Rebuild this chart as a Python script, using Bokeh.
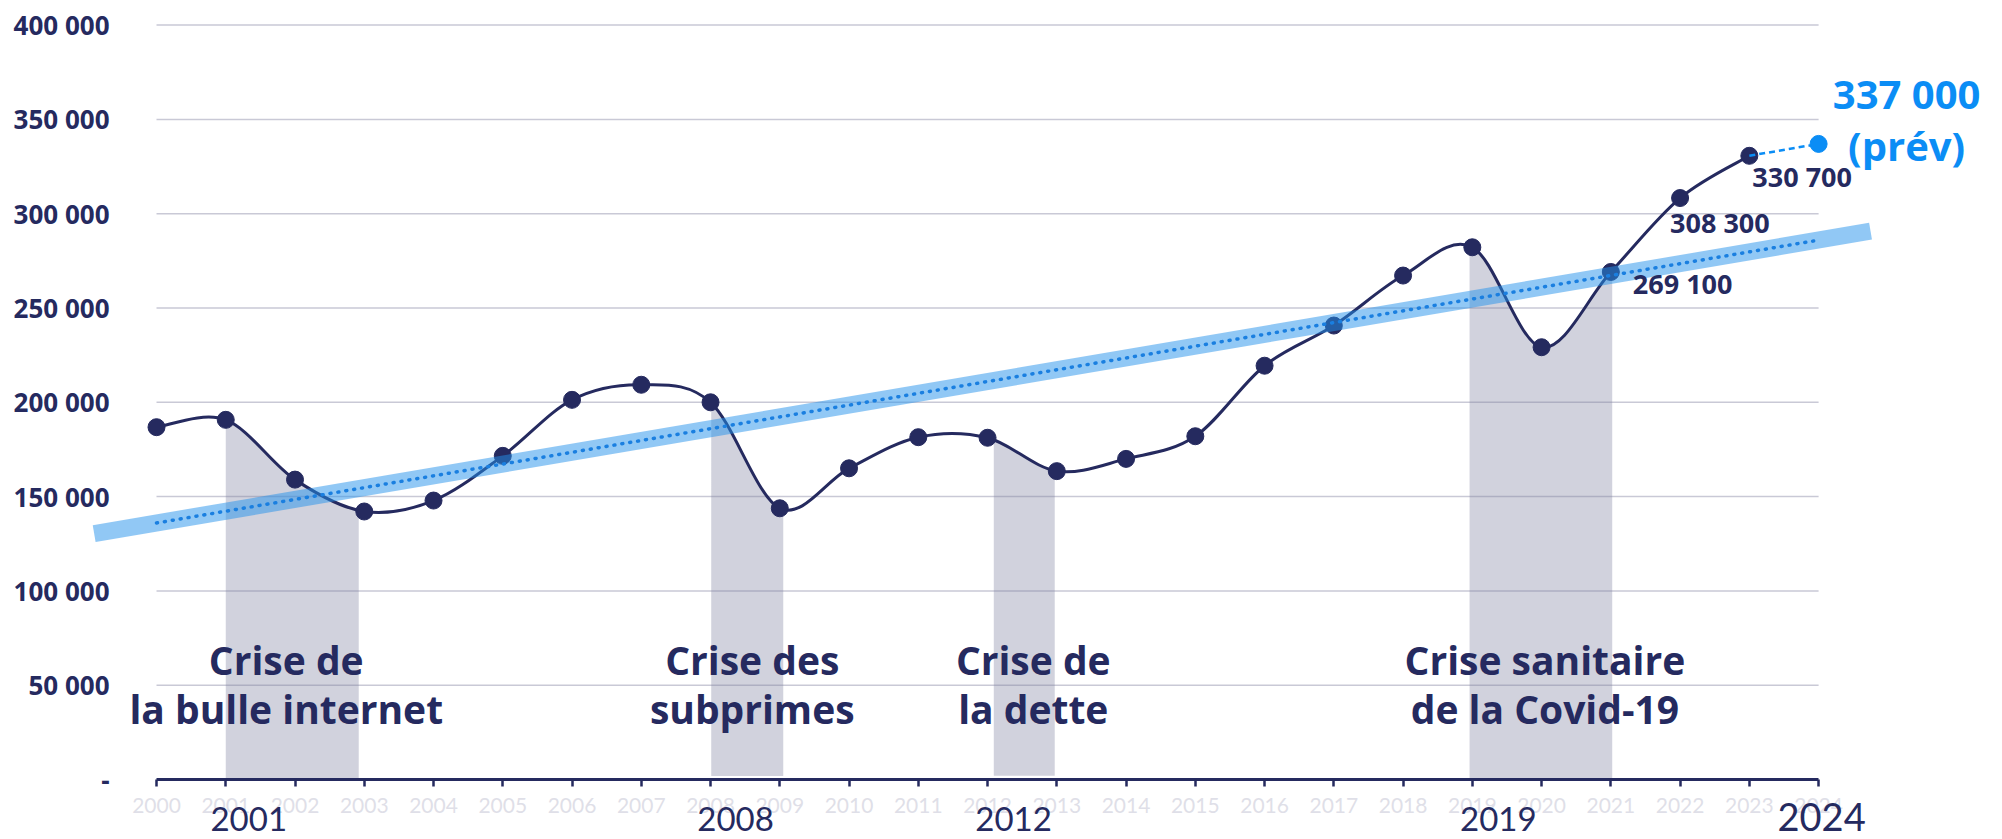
import numpy as np
from bokeh.plotting import figure
from bokeh.models import FixedTicker, Range1d
from bokeh.core.properties import value
from bokeh.embed import file_html
from bokeh.resources import INLINE

# ---------------- data ----------------
years = list(range(2000, 2024))
buyers = [186800, 190700, 159000, 142100, 147900, 171600, 201300, 209300,
          200000, 143800, 165000, 181500, 181200, 163500, 170000, 182000,
          219400, 240700, 267200, 282200, 229200, 269100, 308300, 330700]

forecast_year = 2024
forecast_value = 337000

trend_years = [2000, 2024]
trend_values = [136000, 286000]
band_years = [1999.1, 2024.75]
band_values = [130400, 290700]

crisis_start = [2001.0, 2008.01, 2012.09, 2018.96]
crisis_end = [2002.92, 2009.05, 2012.97, 2021.02]
crisis_bottom = [0, 1800, 2000, 0]
crisis_line1 = ["Crise de", "Crise des", "Crise de", "Crise sanitaire"]
crisis_line2 = ["la bulle internet", "subprimes", "la dette", "de la Covid-19"]

labelled_years = [2021, 2022, 2023]
labelled_values = [269100, 308300, 330700]
labelled_texts = ["269 100", "308 300", "330 700"]

axis_years = list(range(2000, 2025))
big_years = [2001, 2008, 2012, 2019]

y_ticks = [0, 50000, 100000, 150000, 200000, 250000, 300000, 350000, 400000]
y_tick_labels = ["-", "50 000", "100 000", "150 000", "200 000",
                 "250 000", "300 000", "350 000", "400 000"]

# ---------------- style ----------------
NAVY = "#252a5f"
BLUE = "#0b8df5"
GRID = "#c9c9d6"

# Catmull-Rom -> cubic Bezier control points (Excel-like smoothed line)
X = np.array(years, float)
Y = np.array(buyers, float)
n = len(X)
xp = np.concatenate([[X[0]], X, [X[-1]]])
yp = np.concatenate([[Y[0]], Y, [Y[-1]]])
x0, x1 = X[:-1], X[1:]
y0, y1 = Y[:-1], Y[1:]
cx0 = xp[1:n] + (xp[2:n + 1] - xp[0:n - 1]) / 6
cy0 = yp[1:n] + (yp[2:n + 1] - yp[0:n - 1]) / 6
cx1 = xp[2:n + 1] - (xp[3:n + 2] - xp[1:n]) / 6
cy1 = yp[2:n + 1] - (yp[3:n + 2] - yp[1:n]) / 6

t = np.linspace(0, 1, 60)[:, None]
bx = ((1 - t) ** 3 * x0 + 3 * (1 - t) ** 2 * t * cx0 + 3 * (1 - t) * t ** 2 * cx1 + t ** 3 * x1).T.ravel()
by = ((1 - t) ** 3 * y0 + 3 * (1 - t) ** 2 * t * cy0 + 3 * (1 - t) * t ** 2 * cy1 + t ** 3 * y1).T.ravel()
order = np.argsort(bx, kind="stable")
bx, by = bx[order], by[order]

p = figure(width=2000, height=839, output_backend="svg", toolbar_location=None,
           x_range=Range1d(1999.018, 2026.54), y_range=Range1d(0, 408800),
           min_border_left=88, min_border_right=6, min_border_top=8,
           min_border_bottom=60)
p.outline_line_color = None
p.background_fill_color = "white"
p.border_fill_color = "white"
p.grid.visible = False

# gridlines
gy = [v for v in y_ticks if v > 0]
p.segment(x0=[axis_years[0]] * len(gy), x1=[axis_years[-1]] * len(gy), y0=gy, y1=gy,
          line_color=GRID, line_width=1.5)

# crisis shading (area under the smoothed curve)
for a, b, bot in zip(crisis_start, crisis_end, crisis_bottom):
    m = (bx > a) & (bx < b)
    sx = np.concatenate([[a], bx[m], [b]])
    sy = np.concatenate([[np.interp(a, bx, by)], by[m], [np.interp(b, bx, by)]])
    p.varea(x=sx, y1=[bot] * len(sx), y2=sy, fill_color="#7c7e9e", fill_alpha=0.35)

# crisis labels
lx = [(a + b) / 2 for a, b in zip(crisis_start, crisis_end)]
p.text(x=lx, y=[0] * 4, text=crisis_line1, x_offset=[-6, 5, 9, 4], y_offset=-120,
       text_align="center", text_baseline="middle", text_color=NAVY,
       text_font=value("Open Sans"), text_font_style="bold", text_font_size="39px")
p.text(x=lx, y=[0] * 4, text=crisis_line2, x_offset=[-6, 5, 9, 4], y_offset=-71,
       text_align="center", text_baseline="middle", text_color=NAVY,
       text_font=value("Open Sans"), text_font_style="bold", text_font_size="39px")

# smoothed series
p.bezier(x0=x0, y0=y0, x1=x1, y1=y1, cx0=cx0, cy0=cy0, cx1=cx1, cy1=cy1,
         line_color=NAVY, line_width=3)
p.scatter(years, buyers, size=17, color=NAVY)

# forecast
p.line([years[-1], forecast_year], [buyers[-1], forecast_value], line_color=BLUE,
       line_width=2.5, line_dash="6 4")
p.scatter([forecast_year], [forecast_value], size=17, color=BLUE)

# trend
p.line(band_years, band_values, line_width=17, line_color="#2391eb", line_alpha=0.5,
       line_cap="butt")
p.line(trend_years, trend_values, line_width=3.5, line_color="#1a7fe0",
       line_dash="1 7", line_cap="round")

# value labels
p.text(x=labelled_years, y=labelled_values, text=labelled_texts,
       x_offset=[22, -10, 3], y_offset=[12, 24, 21],
       text_align="left", text_baseline="middle", text_color=NAVY,
       text_font=value("Open Sans"), text_font_style="bold", text_font_size="27px")
p.text(x=[forecast_year, forecast_year], y=[forecast_value, forecast_value],
       text=["337 000", "(prév)"], x_offset=[88, 88], y_offset=[-50, 2],
       text_align="center", text_baseline="middle", text_color=BLUE,
       text_font=value("Open Sans"), text_font_style="bold", text_font_size="40px")

# big year labels below axis
p.text(x=big_years, y=[0] * len(big_years), text=[str(v) for v in big_years],
       x_offset=[23, 25, 26, 26], y_offset=39, text_align="center",
       text_baseline="middle", text_color=NAVY, text_font=value("Lato"),
       text_font_size="33px", level="overlay")
p.text(x=[forecast_year], y=[0], text=[str(forecast_year)],
       x_offset=3, y_offset=37, text_align="center",
       text_baseline="middle", text_color=NAVY, text_font=value("Lato"),
       text_font_size="38px", level="overlay")

# axes
xa = p.xaxis[0]
xa.ticker = FixedTicker(ticks=axis_years)
xa.bounds = (axis_years[0], axis_years[-1])
xa.axis_line_color = NAVY
xa.axis_line_width = 3
xa.major_tick_line_color = NAVY
xa.major_tick_line_width = 2.5
xa.major_tick_out = 7
xa.major_tick_in = 0
xa.minor_tick_line_color = None
xa.major_label_text_color = "#dfdfe8"
xa.major_label_text_font = "Lato"
xa.major_label_text_font_size = "21px"
xa.major_label_standoff = 11

ya = p.yaxis[0]
ya.ticker = FixedTicker(ticks=y_ticks)
ya.major_label_overrides = {v: s for v, s in zip(y_ticks, y_tick_labels)}
ya.axis_line_color = None
ya.major_tick_line_color = None
ya.minor_tick_line_color = None
ya.major_tick_out = 0
ya.major_tick_in = 0
ya.major_label_standoff = -21
ya.major_label_text_color = NAVY
ya.major_label_text_font = "Open Sans"
ya.major_label_text_font_style = "bold"
ya.major_label_text_font_size = "26px"

open("out.html", "w").write(file_html(p, INLINE))
